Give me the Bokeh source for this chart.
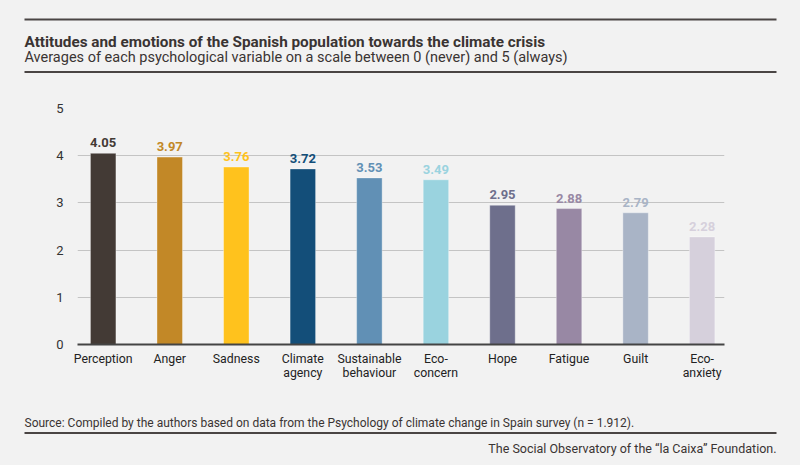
from bokeh.plotting import figure
from bokeh.models import ColumnDataSource, Range1d, FixedTicker
from bokeh.embed import file_html
from bokeh.resources import INLINE
from bokeh.core.properties import value

categories = ["Perception", "Anger", "Sadness", "Climate\nagency", "Sustainable\nbehaviour",
              "Eco-\nconcern", "Hope", "Fatigue", "Guilt", "Eco-\nanxiety"]
values = [4.05, 3.97, 3.76, 3.72, 3.53, 3.49, 2.95, 2.88, 2.79, 2.28]
colors = ["#433a35", "#c28827", "#ffc21d", "#134e79", "#6190b5",
          "#9ad3df", "#6e6f8c", "#9888a4", "#a9b4c6", "#d6d0dc"]
y_ticks = [0, 1, 2, 3, 4, 5]

title_text = "Attitudes and emotions of the Spanish population towards the climate crisis"
subtitle_text = "Averages of each psychological variable on a scale between 0 (never) and 5 (always)"
source_text = "Source: Compiled by the authors based on data from the Psychology of climate change in Spain survey (n = 1.912)."
footer_text = "The Social Observatory of the \u201cla Caixa\u201d Foundation."

FONT = "Roboto"
BG = "#f2f2f2"
TXT = "#3a3433"
RULE = "#4a4544"
W = 800
H_HEAD, H_MAIN, H_FOOT = 90, 305, 70


def panel(height):
    f = figure(width=W, height=height, output_backend="svg", toolbar_location=None,
               x_range=Range1d(0, W), y_range=Range1d(height, 0),
               x_axis_location=None, y_axis_location=None, min_border=0)
    f.background_fill_color = BG
    f.border_fill_color = BG
    f.outline_line_color = None
    f.grid.grid_line_color = None
    return f


def put_text(f, x, y, text, size, style="normal", align="left"):
    f.text(x=[x], y=[y], text=[text], text_font=value(FONT), text_font_size=size,
           text_font_style=style, text_color=TXT, text_align=align,
           text_baseline="alphabetic")


# ---------- header ----------
head = panel(H_HEAD)
head.segment(x0=[24, 24], x1=[776, 776], y0=[19, 71.5], y1=[19, 71.5],
             line_color=RULE, line_width=2)
put_text(head, 24, 41.3, title_text, "15.3px", "bold")
put_text(head, 24, 57.3, subtitle_text, "14.5px")

# ---------- main chart ----------
xs = list(range(len(categories)))
src = ColumnDataSource(dict(x=xs, top=values, color=colors,
                            label=["%.2f" % v for v in values]))

p = figure(width=W, height=H_MAIN, output_backend="svg", toolbar_location=None,
           x_range=Range1d(-0.386, 9.336), y_range=Range1d(0, 5),
           min_border_left=77, min_border_right=76, min_border_top=18, min_border_bottom=51)
p.background_fill_color = BG
p.border_fill_color = BG
p.outline_line_color = None

p.vbar(x="x", top="top", width=0.383, bottom=0, source=src, fill_color="color",
       line_color="#ffffff", line_alpha=0.35, line_width=1)
p.text(x="x", y="top", text="label", source=src, text_color="color",
       text_font=value(FONT), text_font_style="bold", text_font_size="13px",
       text_align="center", text_baseline="bottom", y_offset=-6)

p.xaxis.ticker = FixedTicker(ticks=xs)
p.xaxis.major_label_overrides = {i: c for i, c in enumerate(categories)}
p.xaxis.major_tick_line_color = None
p.xaxis.minor_tick_line_color = None
p.xaxis.axis_line_color = "#444444"
p.xaxis.axis_line_width = 2
p.xaxis.major_label_standoff = 1
p.xaxis.major_label_text_font = FONT
p.xaxis.major_label_text_font_size = "12.3px"
p.xaxis.major_label_text_line_height = 1.0
p.xaxis.major_label_text_color = "#222222"

p.yaxis.ticker = FixedTicker(ticks=y_ticks)
p.yaxis.axis_line_color = None
p.yaxis.major_tick_line_color = None
p.yaxis.minor_tick_line_color = None
p.yaxis.major_label_standoff = 8
p.yaxis.major_label_text_font = FONT
p.yaxis.major_label_text_font_size = "13px"
p.yaxis.major_label_text_color = "#333333"

p.xgrid.grid_line_color = None
p.ygrid.grid_line_color = "#c4c4c4"
p.ygrid.grid_line_width = 1

# ---------- footer ----------
foot = panel(H_FOOT)
put_text(foot, 24, 27.7, source_text, "12px")
foot.segment(x0=[24], x1=[776], y0=[37.5], y1=[37.5], line_color=RULE, line_width=2)
put_text(foot, 776, 53.3, footer_text, "12.5px", align="right")

html = file_html([head, p, foot], INLINE)
html = html.replace("<head>", "<head><style>html, body { background: %s; }</style>" % BG, 1)
open("out.html", "w").write(html)
